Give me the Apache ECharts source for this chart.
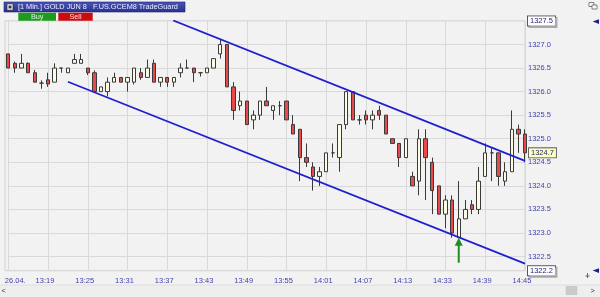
<!DOCTYPE html>
<html><head><meta charset="utf-8">
<script src="https://cdn.jsdelivr.net/npm/echarts@6/dist/echarts.min.js"></script>
<style>html,body{margin:0;padding:0;background:#f2f2f2}#c{width:600px;height:297px}</style>
</head><body><div id="c"></div>
<script>
const categories = ['13:13','13:14','13:15','13:16','13:17','13:18','13:19','13:20','13:21','13:22','13:23','13:24','13:25','13:26','13:27','13:28','13:29','13:30','13:31','13:32','13:33','13:34','13:35','13:36','13:37','13:38','13:39','13:40','13:41','13:42','13:43','13:44','13:45','13:46','13:47','13:48','13:49','13:50','13:51','13:52','13:53','13:54','13:55','13:56','13:57','13:58','13:59','14:00','14:01','14:02','14:03','14:04','14:05','14:06','14:07','14:08','14:09','14:10','14:11','14:12','14:13','14:28','14:29','14:30','14:31','14:32','14:33','14:34','14:35','14:36','14:37','14:38','14:39','14:40','14:41','14:42','14:43','14:44','14:45'];
const dateLabel = '26.04.';
// [open, close, low, high]
const candles = [
[1326.8,1326.5,1326.5,1326.8],[1326.6,1326.5,1326.4,1326.64],[1326.5,1326.6,1326.5,1326.8],[1326.6,1326.4,1326.4,1326.62],
[1326.4,1326.2,1326.2,1326.46],[1326.18,1326.18,1326.06,1326.24],[1326.25,1326.16,1326.1,1326.4],[1326.2,1326.5,1326.2,1326.6],
[1326.5,1326.5,1326.4,1326.5],[1326.4,1326.5,1326.4,1326.5],[1326.6,1326.68,1326.6,1326.8],[1326.6,1326.68,1326.6,1326.8],
[1326.5,1326.4,1326.35,1326.5],[1326.4,1326.0,1326.0,1326.45],[1326.0,1326.1,1326.0,1326.1],[1326.0,1326.2,1325.9,1326.3],
[1326.2,1326.3,1326.2,1326.4],[1326.3,1326.2,1326.2,1326.3],[1326.2,1326.3,1326.0,1326.3],[1326.2,1326.5,1326.15,1326.5],
[1326.4,1326.3,1326.25,1326.5],[1326.3,1326.5,1326.3,1326.68],[1326.6,1326.2,1326.2,1326.68],[1326.2,1326.3,1326.1,1326.3],
[1326.3,1326.2,1326.1,1326.3],[1326.2,1326.3,1326.1,1326.3],[1326.4,1326.5,1326.3,1326.6],[1326.5,1326.5,1326.5,1326.68],
[1326.5,1326.4,1326.2,1326.5],[1326.4,1326.4,1326.32,1326.4],[1326.4,1326.5,1326.4,1326.5],[1326.5,1326.7,1326.5,1326.7],
[1326.8,1327.0,1326.7,1327.1],[1327.0,1326.1,1326.1,1327.0],[1326.1,1325.6,1325.4,1326.2],[1325.7,1325.8,1325.6,1326.0],
[1325.8,1325.3,1325.3,1325.8],[1325.4,1325.5,1325.2,1325.6],[1325.5,1325.8,1325.4,1325.8],[1325.8,1325.7,1325.7,1326.1],
[1325.6,1325.7,1325.4,1325.7],[1325.7,1325.7,1325.5,1325.8],[1325.8,1325.4,1325.4,1325.8],[1325.3,1325.1,1325.1,1325.5],
[1325.2,1324.6,1324.1,1325.2],[1324.6,1324.5,1324.4,1324.9],[1324.4,1324.2,1323.9,1324.5],[1324.2,1324.3,1324.0,1324.4],
[1324.3,1324.7,1324.3,1324.7],[1324.7,1324.7,1324.6,1324.9],[1324.6,1325.3,1324.3,1325.3],[1325.3,1326.0,1325.2,1326.0],
[1326.0,1325.4,1325.4,1326.0],[1325.4,1325.4,1325.3,1325.5],[1325.5,1325.4,1325.3,1325.6],[1325.4,1325.5,1325.2,1325.6],
[1325.6,1325.5,1325.4,1325.7],[1325.5,1325.1,1325.1,1325.5],[1325.0,1324.9,1324.9,1325.0],[1324.9,1324.6,1324.4,1324.9],
[1324.6,1325.0,1324.6,1325.0],[1324.2,1324.0,1324.0,1324.3],[1324.1,1325.0,1323.8,1325.2],[1325.0,1324.6,1323.7,1325.2],
[1324.5,1323.9,1323.4,1324.6],[1324.0,1323.4,1323.4,1324.0],[1323.4,1323.7,1323.1,1323.8],[1323.7,1323.0,1322.9,1323.8],
[1322.9,1323.3,1322.9,1324.1],[1323.3,1323.5,1323.3,1323.7],[1323.6,1323.5,1323.4,1323.7],[1323.5,1324.1,1323.4,1324.4],
[1324.2,1324.7,1324.2,1324.9],[1324.7,1324.7,1324.1,1324.8],[1324.7,1324.2,1324.0,1324.7],[1324.1,1324.3,1324.0,1324.5],
[1324.3,1325.2,1324.3,1325.6],[1325.2,1325.1,1324.7,1325.3],[1325.1,1324.7,1324.5,1325.2]
];
const yTicks = [1322.5,1323.0,1323.5,1324.0,1324.5,1325.0,1325.5,1326.0,1326.5,1327.0];
const yBounds = [1322.2, 1327.5];
const currentPrice = 1324.7;
const upperChannel = [[24.9,1327.51],[78,1324.53]];
const lowerChannel = [[9,1326.21],[78,1322.35]];
const signalIndex = 68;

const FONT = 'Liberation Sans, Arial, sans-serif';
const FS = 7.5;
const labelColor = '#3f3faa';
const lastIdx = categories.length - 1;
const every6 = (i) => (lastIdx - i) % 6 === 0;

const chart = echarts.init(document.getElementById('c'), null, {renderer: 'canvas'});
chart.setOption({
  animation: false,
  backgroundColor: '#f2f2f2',
  textStyle: {fontFamily: FONT},
  grid: {left: 8.25, right: 75, top: 20.9, bottom: 26.3, show: false},
  xAxis: [{
    type: 'category', data: categories, boundaryGap: false,
    axisLine: {show: false}, axisTick: {show: false, interval: every6},
    splitLine: {show: true, interval: every6, lineStyle: {color: '#d9d9d9', width: 1}},
    axisLabel: {
      interval: every6, margin: 6, fontSize: FS, color: labelColor, fontFamily: FONT,
      formatter: (v, i) => i === 0 ? '{d|' + dateLabel + '}' : '{t|' + v + '}',
      rich: {
        d: {fontSize: FS, color: labelColor, fontFamily: FONT, padding: [0, 0, 0, 14]},
        t: {fontSize: FS, color: labelColor, fontFamily: FONT, padding: [0, 6, 0, 0]}
      }
    }
  }, {
    type: 'value', min: 0, max: lastIdx, show: false
  }],
  yAxis: {
    type: 'value', position: 'right', min: yBounds[0], max: yBounds[1], scale: true,
    axisLine: {show: false},
    axisTick: {show: false, customValues: yTicks},
    splitLine: {show: true, lineStyle: {color: '#d9d9d9', width: 1}},
    axisLabel: {
      customValues: yBounds.concat(yTicks), margin: 3, fontSize: FS, color: labelColor, fontFamily: FONT,
      formatter: (v) => (Math.abs(v - yBounds[0]) < 1e-6 || Math.abs(v - yBounds[1]) < 1e-6)
        ? '{b|' + v.toFixed(1) + '}' : v.toFixed(1),
      rich: {
        b: {fontSize: FS, color: '#1c1c6c', fontFamily: FONT, backgroundColor: '#ffffff',
            borderColor: '#555', borderWidth: 1, padding: [1, 2, 0, 2],
            shadowColor: '#aaa', shadowOffsetX: 1.5, shadowOffsetY: 1.5, shadowBlur: 0}
      }
    }
  },
  graphic: [
    {type: 'rect', z: 0, silent: true, shape: {x: 5, y: 20.9, width: 520, height: 249.8},
     style: {fill: 'none', stroke: '#d0d0d0', lineWidth: 1}},
    {type: 'rect', z: 10, shape: {x: 4, y: 2, width: 181, height: 10},
     style: {fill: new echarts.graphic.LinearGradient(0, 0, 0, 1, [{offset: 0, color: '#4a55b8'}, {offset: 1, color: '#27308c'}]), stroke: '#1c2270', lineWidth: 0.6}},
    {type: 'rect', z: 11, shape: {x: 7, y: 3.8, width: 6, height: 6.4},
     style: {fill: '#e8e8f0', stroke: '#222', lineWidth: 0.6}},
    {type: 'rect', z: 12, shape: {x: 8.6, y: 5.6, width: 2.8, height: 2.8}, style: {fill: '#333'}},
    {type: 'text', z: 11, style: {text: '[1 Min.] GOLD JUN 8   F.US.GCEM8 TradeGuard', x: 18, y: 7.2,
      fill: '#eeeeff', font: '7.3px ' + FONT, verticalAlign: 'middle'}},
    {type: 'rect', z: 10, shape: {x: 18.3, y: 12.7, width: 37.7, height: 8}, style: {fill: '#1e9a1e'}},
    {type: 'text', z: 11, style: {text: 'Buy', x: 37.2, y: 16.9, fill: '#dff5df', font: '7.3px ' + FONT, align: 'center', verticalAlign: 'middle'}},
    {type: 'rect', z: 10, shape: {x: 58.3, y: 12.7, width: 34.4, height: 8}, style: {fill: '#cc0c0c'}},
    {type: 'text', z: 11, style: {text: 'Sell', x: 75.5, y: 16.9, fill: '#ffdcdc', font: '7.3px ' + FONT, align: 'center', verticalAlign: 'middle'}},
    {type: 'rect', z: 10, shape: {x: 589, y: 2.5, width: 5, height: 4}, style: {fill: '#f8f8f8', stroke: '#555', lineWidth: 0.7}},
    {type: 'rect', z: 10, shape: {x: 592, y: 5, width: 5, height: 4}, style: {fill: '#f8f8f8', stroke: '#555', lineWidth: 0.7}},
    {type: 'polygon', z: 10, shape: {points: [[592.7, 21.6], [599, 19.3], [599, 24]]}, style: {fill: '#1e1e8c'}},
    {type: 'polygon', z: 10, shape: {points: [[592.7, 270.5], [599, 268.2], [599, 272.9]]}, style: {fill: '#1e1e8c'}},
    {type: 'line', z: 10, shape: {x1: 587.5, y1: 273, x2: 587.5, y2: 278}, style: {stroke: '#666', lineWidth: 1}},
    {type: 'line', z: 10, shape: {x1: 585.5, y1: 276, x2: 589.5, y2: 276}, style: {stroke: '#666', lineWidth: 1}},
    {type: 'rect', z: 9, shape: {x: 0, y: 285, width: 600, height: 12}, style: {fill: '#eeeeee'}},
    {type: 'line', z: 10, shape: {x1: 0, y1: 285, x2: 600, y2: 285}, style: {stroke: '#dddddd', lineWidth: 1}},
    {type: 'rect', z: 10, shape: {x: 565.7, y: 286, width: 11.6, height: 9}, style: {fill: '#cacaca'}},
    {type: 'text', z: 11, style: {text: '<', x: 1.5, y: 290.5, fill: '#333', font: '7.3px ' + FONT, verticalAlign: 'middle'}},
    {type: 'text', z: 11, style: {text: '>', x: 590.5, y: 290.5, fill: '#333', font: '7.3px ' + FONT, verticalAlign: 'middle'}}
  ],
  series: [{
    type: 'candlestick', data: candles, barWidth: 3.8, clip: false,
    itemStyle: {color: '#fbfbe6', color0: '#e84a4a', borderColor: '#3a3a3a', borderColor0: '#3a3a3a', borderWidth: 1},
    markLine: {
      silent: true, symbol: 'none', animation: false,
      lineStyle: {color: 'rgba(0,0,0,0)', width: 1, type: 'solid'},
      label: {show: true, position: 'end', distance: 4, formatter: currentPrice.toFixed(1),
        fontSize: FS, fontFamily: FONT, color: '#1c1c6c', backgroundColor: '#ffffc4',
        borderColor: '#666', borderWidth: 1, padding: [1, 2, 0, 2]},
      data: [{yAxis: currentPrice}]
    },
    markPoint: {
      silent: true, animation: false,
      data: [{coord: [signalIndex, candles[signalIndex][2]],
        symbol: 'path://M4,0 L8,8 L5,8 L5,25 L3,25 L3,8 L0,8 Z',
        symbolSize: [8, 25], symbolOffset: [0, 12.5],
        itemStyle: {color: '#1f8f1f'}, label: {show: false}}]
    }
  }, {
    type: 'line', xAxisIndex: 1, data: upperChannel, symbol: 'none', silent: true,
    lineStyle: {color: '#1f1fcf', width: 1.7}
  }, {
    type: 'line', xAxisIndex: 1, data: lowerChannel, symbol: 'none', silent: true,
    lineStyle: {color: '#1f1fcf', width: 1.7}
  }]
});
</script></body></html>
